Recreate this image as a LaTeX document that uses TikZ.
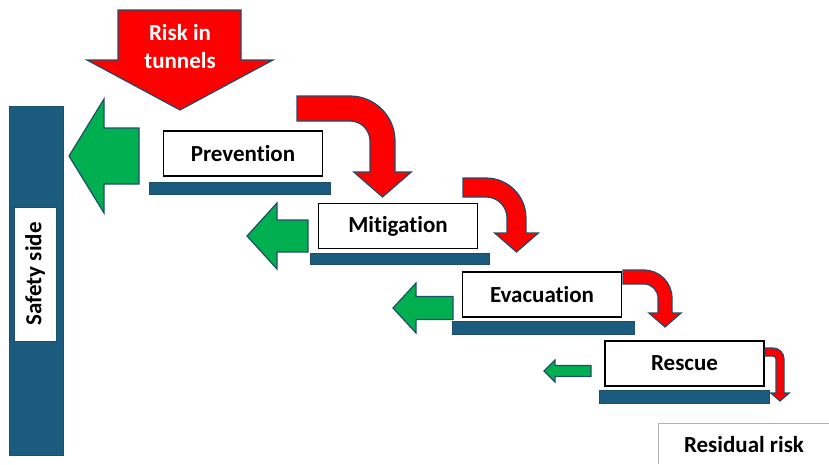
\documentclass[tikz,border=0pt]{standalone}
\usepackage{fontspec}
\setmainfont[Ligatures=NoCommon]{Carlito}
\usepackage{xcolor}
\usepackage{tikz}

\definecolor{barblue}{HTML}{1A5B7E}
\definecolor{edgeblue}{HTML}{1F4E69}
\definecolor{riskred}{HTML}{FF0000}
\definecolor{safegreen}{HTML}{00B050}

% red turning arrow: left x, top y, band width, outer right x, head y, bend radius
\newcommand{\turnarrow}[6]{%
  \pgfmathsetmacro{\tRi}{#6-#3}
  \pgfmathsetmacro{\tC}{#4-#3/2}
  \pgfmathsetmacro{\tH}{1.15*#3}
  \draw[redturn] (#1,#2) -- ({#4-#6},#2)
    .. controls ({#4-0.448*#6},#2) and (#4,{#2+0.448*#6}) .. (#4,{#2+#6})
    -- (#4,#5) -- ({\tC+\tH},#5) -- (\tC,{#5+#3}) -- ({\tC-\tH},#5)
    -- ({#4-#3},#5) -- ({#4-#3},{#2+#6})
    .. controls ({#4-#3},{#2+#6-0.552*\tRi}) and ({#4-#6+0.552*\tRi},{#2+#3}) .. ({#4-#6},{#2+#3})
    -- (#1,{#2+#3}) -- cycle;
}
% green arrow back to the safety side: tip x, mid y, head base x, head half, shaft half, right x
\newcommand{\backarrow}[6]{%
  \draw[greenback] (#1,#2) -- (#3,{#2-#4}) -- (#3,{#2-#5}) -- (#6,{#2-#5})
    -- (#6,{#2+#5}) -- (#3,{#2+#5}) -- (#3,{#2+#4}) -- cycle;
}

\begin{document}
\begin{tikzpicture}[x=1pt, y=-1pt,
    redturn/.style={fill=riskred, draw=edgeblue, line width=1.2pt, line join=miter},
    greenback/.style={fill=safegreen, draw=edgeblue, line width=1.2pt},
    stagebox/.style={draw=black, fill=white, line width=1.6pt, minimum width=159pt,
      minimum height=45pt, font=\fontsize{23}{26}\selectfont\bfseries},
    stagebar/.style={fill=barblue, draw=edgeblue, line width=0.6pt}]
  \useasboundingbox (0,0) rectangle (829,464);

  % Safety side column
  \draw[fill=barblue, draw=edgeblue, line width=1pt] (9,106) rectangle (63,455);
  \node[draw=edgeblue, fill=white, rotate=90, minimum width=134pt, minimum height=42pt,
    inner sep=0pt, font=\fontsize{23}{26}\selectfont\bfseries] (safety) at (35,274) {Safety side};

  % Incoming risk
  \draw[redturn] (118,10) -- (241,10) -- (241,60) -- (273,60) -- (180,110)
    -- (87,60) -- (118,60) -- cycle;
  \node[text=white, align=center, font=\fontsize{23}{28}\selectfont\bfseries] (risk) at (180,47) {Risk in\\tunnels};

  % Stages
  \node[stagebox] (prevention) at (243,153.5) {Prevention};
  \node[stagebox] (mitigation) at (398,226) {Mitigation};
  \node[stagebox] (evacuation) at (542,294.5) {Evacuation};
  \node[stagebox] (rescue) at (684.5,363.5) {Rescue};
  \draw[stagebar] (149,182) rectangle (330,194);
  \draw[stagebar] (310,253) rectangle (489,264);
  \draw[stagebar] (452,321) rectangle (634,334);
  \draw[stagebar] (599,390) rectangle (769,403);

  % Risk passed on
  \turnarrow{297}{96}{25}{395}{172}{45}
  \turnarrow{463}{178}{19}{526}{233}{40}
  \turnarrow{623}{270}{14}{672}{313}{28}
  \turnarrow{765}{348}{8}{784}{393}{11}

  % Back to the safety side
  \backarrow{69}{156}{104}{57}{28}{139}
  \backarrow{247}{236}{277}{33}{16}{308}
  \backarrow{393}{308}{416}{25}{11.5}{453}
  \backarrow{544}{371}{555}{11}{5.5}{591}

  % Residual risk
  \draw[gray!60, line width=0.8pt] (658,464) -- (658,423) -- (829,423);
  \node[font=\fontsize{23}{26}\selectfont\bfseries] (residual) at (744,445) {Residual risk};
\end{tikzpicture}
\end{document}
